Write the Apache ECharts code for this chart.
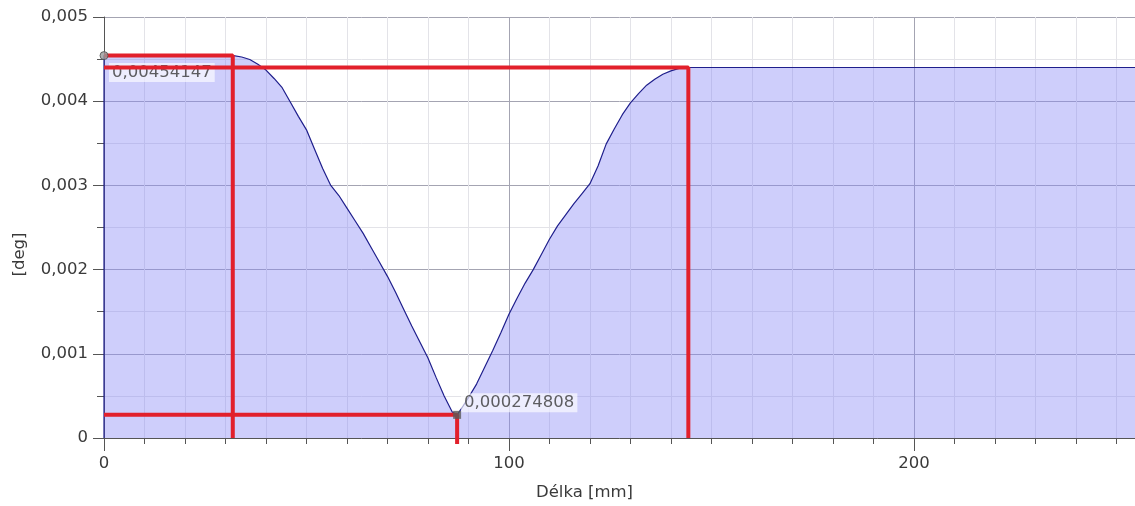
<!DOCTYPE html>
<html>
<head>
<meta charset="utf-8">
<script src="https://cdn.jsdelivr.net/npm/echarts@6/dist/echarts.min.js"></script>
<style>
html,body{margin:0;padding:0;background:#fff;}
#chart{width:1135px;height:506px;}
</style>
</head>
<body>
<div id="chart"></div>
<script>
// Curve: length [mm] and angle [deg]
const lengthMm = [0, 0, 5, 10, 15, 20, 25, 30, 32, 34, 36, 38, 40, 42, 44, 46, 48, 50, 52, 54, 56, 58, 60, 62, 64, 66, 68, 70, 72, 74, 76, 78, 80, 82, 84, 86, 87.2, 88, 90, 92, 94, 96, 98, 100, 102, 104, 106, 108, 110, 112, 114, 116, 118, 120, 122, 124, 126, 128, 130, 132, 134, 136, 138, 140, 142, 144, 150, 175, 200, 225, 250, 254.6];
const angleDeg = [0, 0.00454147, 0.00454147, 0.00454147, 0.00454147, 0.00454147, 0.00454147, 0.00454147, 0.00454147, 0.004525, 0.004495, 0.00444, 0.00437, 0.00427, 0.00416, 0.00399, 0.00382, 0.00366, 0.00343, 0.00320, 0.00300, 0.00288, 0.00273, 0.00258, 0.00243, 0.00226, 0.00209, 0.00192, 0.00173, 0.00153, 0.00133, 0.00114, 0.00095, 0.00072, 0.00050, 0.00031, 0.000274808, 0.00033, 0.00048, 0.00064, 0.00084, 0.00104, 0.00125, 0.00147, 0.00166, 0.00184, 0.00200, 0.00218, 0.00236, 0.00252, 0.00265, 0.00278, 0.00290, 0.00302, 0.00323, 0.00349, 0.00367, 0.00384, 0.00398, 0.00409, 0.00419, 0.00426, 0.00432, 0.00436, 0.00439, 0.0044, 0.0044, 0.0044, 0.0044, 0.0044, 0.0044, 0.0044];

// Annotated points
const startPoint = [0, 0.00454147];
const minPoint = [87.2, 0.000274808];

// Red guide lines (x, y pairs)
const guideStartX = [0, 31.8, 31.8];
const guideStartY = [0.00454147, 0.00454147, 0];
const guideEndX = [0, 144.3, 144.3];
const guideEndY = [0.0044, 0.0044, 0];
const guideMinX = [0, 87.2, 87.2];
const guideMinY = [0.000274808, 0.000274808, -0.00007];

const xTicks = [0, 100, 200];
const yTicks = ['0', '0,001', '0,002', '0,003', '0,004', '0,005'];

const zip = (a, b) => a.map((v, i) => [v, b[i]]);
const FONT = 'DejaVu Sans';
const FS = 16.5;
const TXT = '#3a3a3a';
const fmtNum = v => String(v).replace('.', ',');
const X_MAX = 254.6;

const chart = echarts.init(document.getElementById('chart'));
chart.setOption({
  animation: false,
  grid: {left: 104, top: 17, right: 0, height: 422, containLabel: false},
  xAxis: [
    {
      // minor ticks / grid every 10 mm
      type: 'value', min: 0, max: X_MAX, interval: 10, position: 'bottom',
      axisLine: {show: false},
      axisTick: {show: true, length: 6, lineStyle: {color: '#555'}},
      splitLine: {show: true, lineStyle: {color: '#e3e3e8', width: 1}},
      axisLabel: {show: false}
    },
    {
      type: 'value', min: 0, max: X_MAX, interval: 100, position: 'bottom',
      name: 'Délka [mm]', nameLocation: 'middle', nameGap: 46,
      nameTextStyle: {fontFamily: FONT, fontSize: FS, color: TXT, padding: [0, 70, 0, 0]},
      axisLine: {show: true, onZero: false, lineStyle: {color: '#555', width: 1}},
      axisTick: {show: true, length: 13, lineStyle: {color: '#555'}},
      splitLine: {show: true, lineStyle: {color: '#a4a4b2', width: 1}},
      axisLabel: {
        fontFamily: FONT, fontSize: FS, color: TXT, margin: 17, showMaxLabel: false,
        formatter: v => xTicks.indexOf(v) >= 0 ? String(v) : ''
      }
    }
  ],
  yAxis: {
    type: 'value', min: 0, max: 0.005, interval: 0.001,
    name: '[deg]', nameLocation: 'middle', nameGap: 76,
    nameTextStyle: {fontFamily: FONT, fontSize: FS, color: TXT, padding: [0, 54, 0, 0]},
    axisLine: {show: true, lineStyle: {color: '#555', width: 1}},
    axisTick: {show: true, length: 11, lineStyle: {color: '#555'}},
    minorTick: {show: true, splitNumber: 2, length: 7, lineStyle: {color: '#555'}},
    splitLine: {show: true, lineStyle: {color: '#a4a4b2', width: 1}},
    minorSplitLine: {show: true, lineStyle: {color: '#e3e3e8', width: 1}},
    axisLabel: {
      fontFamily: FONT, fontSize: FS, color: TXT, margin: 16,
      formatter: v => yTicks[Math.round(v / 0.001)]
    }
  },
  series: [
    {
      type: 'line', xAxisIndex: 1, data: zip(lengthMm, angleDeg), symbol: 'none', z: 2,
      lineStyle: {color: '#1f1f8c', width: 1.2},
      areaStyle: {color: 'rgba(135,135,245,0.58)'}
    },
    {
      type: 'scatter', xAxisIndex: 1, z: 3, symbolSize: 8,
      itemStyle: {color: 'rgba(0,0,0,0)'},
      data: [
        {value: startPoint, label: {position: 'right', distance: 1, offset: [0, 17]}},
        {value: minPoint, label: {position: 'right', distance: 0, offset: [0, -12]}}
      ],
      label: {
        show: true, fontFamily: FONT, fontSize: FS, color: TXT,
        backgroundColor: 'rgba(255,255,255,0.8)', padding: [1, 3],
        formatter: p => fmtNum(p.value[1])
      }
    },
    {
      type: 'line', xAxisIndex: 1, data: zip(guideStartX, guideStartY), symbol: 'none', z: 4, clip: false,
      lineStyle: {color: '#e2202b', width: 4}
    },
    {
      type: 'line', xAxisIndex: 1, data: zip(guideEndX, guideEndY), symbol: 'none', z: 4, clip: false,
      lineStyle: {color: '#e2202b', width: 4}
    },
    {
      type: 'line', xAxisIndex: 1, data: zip(guideMinX, guideMinY), symbol: 'none', z: 4, clip: false,
      lineStyle: {color: '#e2202b', width: 4}
    },
    {
      type: 'scatter', xAxisIndex: 1, z: 5, symbol: 'circle', symbolSize: 8,
      itemStyle: {color: '#9a9a9a', borderColor: '#505050', borderWidth: 1},
      data: [startPoint]
    },
    {
      type: 'scatter', xAxisIndex: 1, z: 5, symbol: 'rect', symbolSize: 8,
      itemStyle: {color: '#5a5a5a'},
      data: [minPoint]
    }
  ]
});
</script>
</body>
</html>
